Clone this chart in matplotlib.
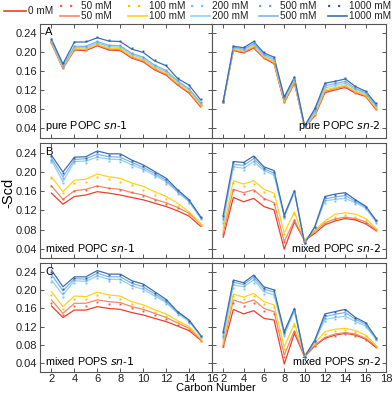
#! /usr/bin/env python3
import numpy as np
import matplotlib
matplotlib.use("Agg")
import matplotlib.pyplot as plt
from matplotlib.lines import Line2D

plt.rcParams["font.family"] = ["Liberation Sans", "DejaVu Sans"]

SN1 = list(range(2, 16))   # carbons 2..15
SN2 = list(range(2, 18))   # carbons 2..17
CONC = ["0 mM", "50 mM", "100 mM", "200 mM", "500 mM", "1000 mM"]
COLORS = ["#e8402f", "#f4876a", "#ffd21f", "#8fd3f0", "#84b4e4", "#3d6fb6"]
DOT_COLORS = ["#f06040", "#ffc000", "#6cc8ee", "#6aa2dc", "#2f5fae"]

# --- A: pure POPC ---
A_SN1 = [
    [.219, .166, .205, .204, .214, .205, .204, .188, .180, .163, .152, .131, .114, .085],
    [.220, .167, .207, .206, .216, .207, .206, .190, .182, .165, .154, .133, .116, .087],
    [.221, .168, .208, .207, .217, .209, .208, .192, .184, .167, .156, .135, .118, .089],
    [.223, .170, .211, .210, .220, .212, .211, .195, .187, .170, .159, .138, .121, .092],
    [.224, .172, .213, .213, .223, .215, .214, .198, .190, .173, .162, .140, .123, .094],
    [.228, .176, .222, .222, .231, .224, .223, .207, .200, .182, .172, .145, .131, .100],
]
A_SN1_DOTS = [
    [.221, .168, .206, .206, .217, .208, .206, .191, .182, .166, .155, .134, .117, .088],
    [.222, .169, .208, .208, .218, .210, .208, .193, .185, .168, .157, .136, .119, .090],
    [.224, .171, .212, .212, .222, .213, .212, .196, .188, .171, .160, .139, .122, .093],
    [.225, .172, .214, .214, .224, .216, .215, .199, .191, .174, .163, .141, .124, .095],
    [.229, .177, .223, .224, .233, .226, .225, .209, .202, .184, .173, .146, .132, .101],
]
A_SN2 = [
    [.094, .204, .199, .209, .188, .176, .094, .135, .042, .066, .115, .121, .126, .114, .107, .080],
    [.094, .205, .201, .211, .190, .178, .096, .137, .042, .068, .118, .124, .129, .116, .109, .082],
    [.095, .207, .203, .213, .191, .180, .098, .139, .043, .070, .121, .126, .131, .118, .110, .084],
    [.095, .209, .205, .216, .193, .183, .100, .142, .043, .073, .125, .130, .135, .121, .113, .086],
    [.096, .211, .207, .219, .196, .186, .103, .145, .044, .077, .130, .134, .139, .124, .115, .089],
    [.096, .213, .210, .223, .199, .190, .106, .148, .045, .081, .135, .139, .144, .128, .118, .092],
]
A_SN2_DOTS = [
    [.095, .206, .200, .212, .189, .177, .095, .136, .042, .067, .117, .123, .128, .115, .108, .081],
    [.095, .208, .202, .214, .191, .179, .097, .138, .043, .069, .120, .125, .130, .117, .109, .083],
    [.096, .210, .206, .217, .194, .184, .101, .143, .043, .074, .126, .131, .136, .122, .114, .087],
    [.096, .212, .208, .220, .197, .187, .104, .146, .044, .078, .131, .135, .140, .125, .116, .090],
    [.097, .214, .211, .224, .200, .191, .107, .149, .045, .082, .136, .140, .145, .129, .119, .093],
]

# --- B: mixed POPC ---
B_SN1 = [
    [.156, .133, .149, .152, .159, .156, .152, .147, .142, .135, .128, .119, .108, .087],
    [.171, .143, .161, .164, .171, .166, .164, .157, .152, .143, .136, .126, .114, .092],
    [.190, .159, .183, .185, .196, .190, .187, .177, .170, .159, .149, .135, .117, .093],
    [.224, .180, .222, .223, .231, .227, .226, .215, .206, .193, .180, .158, .138, .104],
    [.229, .190, .226, .228, .237, .232, .231, .220, .210, .197, .183, .160, .140, .105],
    [.235, .200, .231, .232, .244, .238, .238, .225, .215, .201, .187, .163, .142, .107],
]
B_SN1_DOTS = [
    [.170, .144, .161, .163, .170, .166, .163, .158, .150, .142, .134, .125, .112, .090],
    [.188, .157, .178, .180, .190, .185, .180, .172, .163, .153, .144, .130, .113, .090],
    [.221, .178, .218, .219, .227, .223, .222, .211, .202, .189, .176, .155, .135, .102],
    [.226, .187, .223, .225, .233, .229, .228, .217, .207, .194, .180, .158, .138, .104],
    [.233, .198, .229, .230, .241, .236, .235, .223, .213, .199, .185, .162, .141, .106],
]
B_SN2 = [
    [.064, .147, .138, .145, .128, .121, .039, .096, .057, .072, .090, .098, .103, .100, .092, .078],
    [.072, .164, .157, .163, .145, .136, .055, .100, .057, .076, .094, .102, .106, .103, .096, .080],
    [.083, .182, .175, .182, .164, .156, .073, .117, .058, .079, .098, .112, .115, .112, .103, .083],
    [.096, .211, .208, .222, .203, .194, .107, .158, .052, .085, .140, .143, .145, .136, .125, .096],
    [.103, .216, .214, .228, .207, .198, .108, .160, .051, .085, .144, .148, .151, .139, .127, .098],
    [.110, .222, .220, .2335, .211, .203, .110, .161, .051, .086, .149, .154, .157, .142, .129, .100],
]
B_SN2_DOTS = [
    [.070, .162, .154, .160, .143, .134, .053, .099, .056, .075, .093, .101, .104, .101, .094, .079],
    [.080, .177, .170, .176, .158, .150, .070, .113, .057, .078, .096, .106, .110, .107, .099, .081],
    [.094, .207, .204, .217, .198, .190, .104, .155, .052, .084, .136, .139, .141, .133, .122, .094],
    [.101, .213, .211, .224, .204, .195, .107, .158, .051, .085, .142, .146, .148, .137, .125, .097],
    [.108, .220, .218, .231, .209, .201, .109, .160, .051, .086, .147, .152, .155, .141, .128, .099],
]

# --- C: mixed POPS ---
C_SN1 = [
    [.1655, .140, .1565, .1565, .164, .160, .158, .151, .1455, .138, .131, .121, .111, .090],
    [.179, .149, .1715, .1715, .179, .175, .173, .164, .158, .149, .140, .128, .116, .092],
    [.197, .164, .1875, .186, .196, .190, .1875, .175, .168, .157, .148, .133, .120, .094],
    [.223, .190, .2215, .220, .232, .2245, .2245, .210, .2025, .1875, .173, .149, .131, .099],
    [.235, .199, .226, .225, .238, .230, .230, .216, .208, .192, .176, .151, .133, .100],
    [.245, .208, .230, .230, .244, .236, .236, .2215, .214, .197, .180, .153, .1345, .101],
]
C_SN1_DOTS = [
    [.172, .146, .166, .166, .174, .170, .169, .160, .155, .146, .137, .124, .113, .089],
    [.190, .159, .181, .182, .190, .185, .182, .170, .164, .153, .144, .129, .116, .091],
    [.219, .186, .217, .217, .227, .220, .219, .205, .198, .183, .170, .146, .128, .097],
    [.229, .194, .222, .222, .234, .226, .226, .212, .205, .189, .174, .149, .131, .099],
    [.241, .204, .228, .228, .241, .234, .234, .219, .212, .195, .178, .152, .133, .100],
]
C_SN2 = [
    [.074, .158, .148, .155, .138, .1345, .037, .105, .053, .077, .094, .101, .105, .101, .092, .074],
    [.079, .179, .1715, .179, .160, .153, .057, .111, .055, .079, .096, .1035, .1065, .1035, .094, .077],
    [.0865, .192, .185, .1935, .175, .168, .075, .127, .057, .083, .1085, .114, .116, .111, .101, .079],
    [.096, .212, .208, .223, .197, .190, .101, .155, .052, .087, .136, .140, .143, .131, .121, .092],
    [.102, .218, .213, .229, .203, .196, .105, .158, .052, .088, .142, .147, .151, .136, .125, .094],
    [.1085, .223, .217, .234, .208, .201, .1085, .160, .053, .090, .148, .153, .158, .140, .1285, .096],
]
C_SN2_DOTS = [
    [.077, .172, .165, .171, .154, .147, .052, .108, .054, .078, .094, .100, .103, .100, .091, .075],
    [.084, .187, .180, .188, .170, .163, .070, .122, .056, .081, .104, .110, .112, .107, .098, .078],
    [.094, .206, .203, .217, .192, .186, .098, .151, .052, .086, .132, .136, .139, .128, .118, .090],
    [.100, .215, .210, .226, .200, .193, .103, .156, .052, .087, .139, .144, .148, .134, .123, .093],
    [.107, .221, .216, .232, .206, .200, .107, .159, .053, .089, .146, .152, .156, .139, .127, .095],
]

PANELS = [
    ("A", "pure POPC ", A_SN1, A_SN1_DOTS, A_SN2, A_SN2_DOTS),
    ("B", "mixed POPC ", B_SN1, B_SN1_DOTS, B_SN2, B_SN2_DOTS),
    ("C", "mixed POPS ", C_SN1, C_SN1_DOTS, C_SN2, C_SN2_DOTS),
]

W, H = 392, 396
fig = plt.figure(figsize=(W / 100, H / 100), dpi=100)

# panel edges in pixels
cols = [(40, 212), (212, 386)]
rows = [(24, 137.7), (143.3, 258.3), (263.3, 371.7)]
SPINE = "#555555"


def style(ax):
    for s in ax.spines.values():
        s.set_color(SPINE)
        s.set_linewidth(0.8)
    ax.tick_params(direction="in", length=3, width=0.7, color=SPINE,
                   top=True, right=True, labelsize=8, pad=2, labelcolor="#222222")


for r, (letter, name, s1, s1d, s2, s2d) in enumerate(PANELS):
    y0, y1 = rows[r]
    for c in range(2):
        x0, x1 = cols[c]
        ax = fig.add_axes([x0 / W, 1 - y1 / H, (x1 - x0) / W, (y1 - y0) / H])
        style(ax)
        xs = SN1 if c == 0 else SN2
        lines = s1 if c == 0 else s2
        dots = s1d if c == 0 else s2d
        for i, vals in enumerate(lines):
            ax.plot(xs, vals, color=COLORS[i], lw=0.9, zorder=2 + i * 0.1)
        for i, vals in enumerate(dots):
            ax.plot(xs, vals, ls="none", marker="s", ms=1.4, mew=0,
                    color=DOT_COLORS[i], zorder=3 + i * 0.1)
        ax.set_ylim(0.02, 0.26)
        ax.set_yticks(np.arange(0.04, 0.241, 0.04))
        if c == 0:
            ax.set_xlim(1, 16)
            ax.set_xticks(range(2, 17, 2))
            ax.set_yticklabels(["%.2f" % v for v in np.arange(0.04, 0.241, 0.04)])
            ax.text(0.03, 0.97, letter, transform=ax.transAxes, fontsize=8,
                    va="top", ha="left")
            ax.text(0.03, 0.04, name + "$\\it{sn}$-$\\it{1}$", transform=ax.transAxes,
                    fontsize=7.8, va="bottom", ha="left")
        else:
            ax.set_xlim(0.9, 18)
            ax.set_xticks(range(2, 19, 2))
            ax.set_yticklabels([])
            ax.text(0.97, 0.04, name + "$\\it{sn}$-$\\it{2}$", transform=ax.transAxes,
                    fontsize=7.8, va="bottom", ha="right")
        if r < 2:
            ax.set_xticklabels([])

fig.text(176 / W, 1 - 388 / H, "Carbon Number", fontsize=8, ha="left", va="center")
fig.text(8 / W, 1 - 193 / H, "-Scd", fontsize=10.5, rotation=90, ha="center", va="center")

# legend drawn in figure pixels
ly = 1 - 11 / H
fig.add_artist(Line2D([4 / W, 26 / W], [ly, ly], color=COLORS[0], lw=1.2))
fig.text(28 / W, ly, CONC[0], fontsize=7.2, va="center", ha="left", color="#222222")
col_x = [60, 128, 191, 259, 328]
for j, x in enumerate(col_x):
    ya = 1 - 5.7 / H
    yb = 1 - 15.7 / H
    fig.add_artist(Line2D([x / W, (x + 18) / W], [ya, ya], color=DOT_COLORS[j],
                          lw=1.6, ls=(0, (1, 3.5)), solid_capstyle="butt"))
    fig.add_artist(Line2D([x / W, (x + 19) / W], [yb, yb], color=COLORS[j + 1], lw=1.2))
    fig.text((x + 21) / W, ya, CONC[j + 1], fontsize=7.2, va="center", ha="left", color="#222222")
    fig.text((x + 21) / W, yb, CONC[j + 1], fontsize=7.2, va="center", ha="left", color="#222222")

fig.savefig("out.png", dpi=100)
